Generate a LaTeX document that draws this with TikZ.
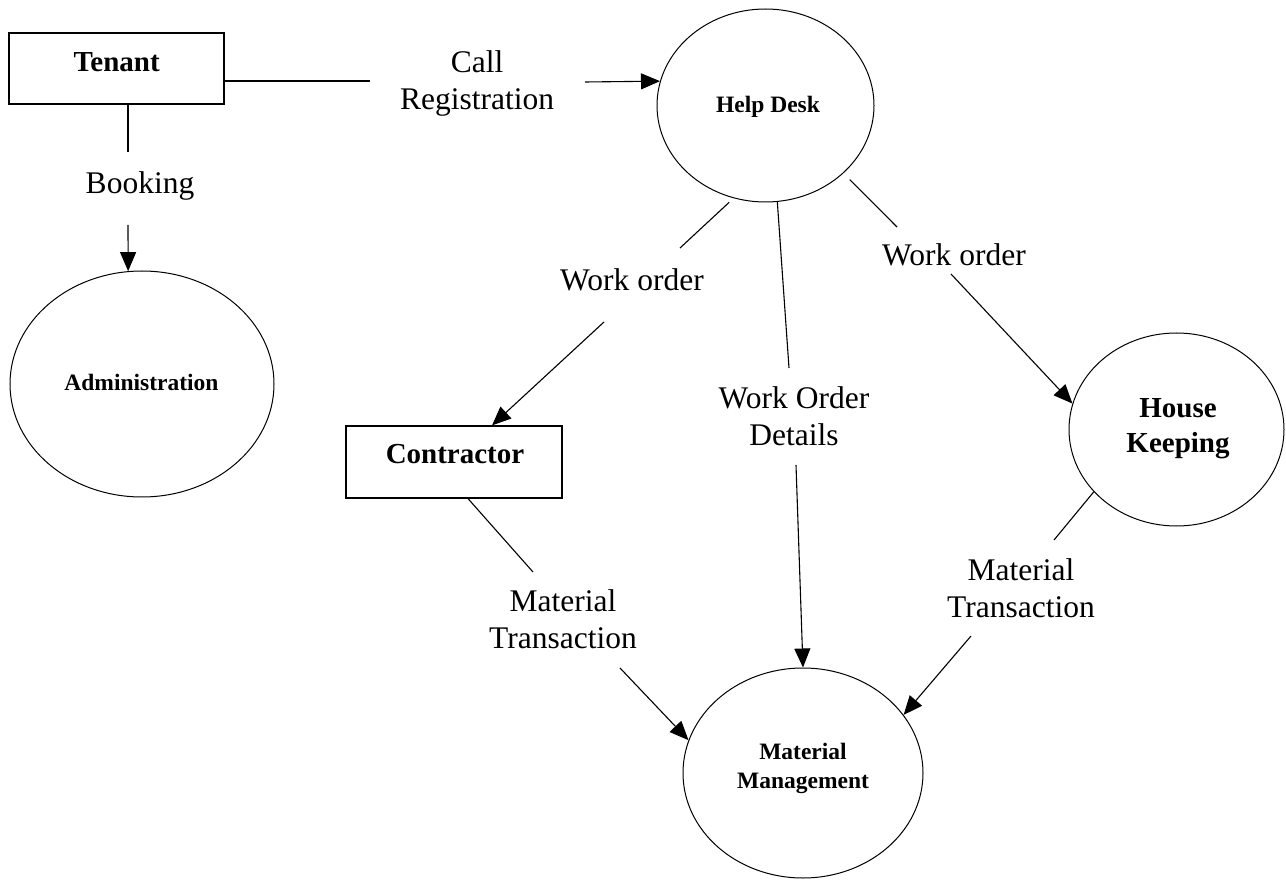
\documentclass[tikz,border=0pt]{standalone}
\usepackage{fontspec}
\setmainfont{Liberation Serif}
\usetikzlibrary{shapes.geometric,arrows.meta}
\begin{document}
\begin{tikzpicture}[x=1pt,y=-1pt,
  flow/.style={line width=1.1pt},
  arr/.style={line width=1.1pt,-{Triangle[length=19pt,width=16pt]}},
  entity/.style={draw,line width=1.2pt,rectangle,inner sep=0pt},
  process/.style={draw,line width=1pt,ellipse,inner sep=0pt},
  flowlabel/.style={inner sep=0pt,align=center,font=\fontsize{31.5}{37}\selectfont},
  bigname/.style={inner sep=0pt,align=center,font=\bfseries\fontsize{29}{35}\selectfont},
  smallname/.style={inner sep=0pt,align=center,font=\bfseries\fontsize{23.5}{29}\selectfont},
]
\useasboundingbox (0,0) rectangle (1286,882);

% external entities
\node[entity,minimum width=215pt,minimum height=71pt] (tenant) at (116.5,68.5) {};
\node[bigname] (tenanttext) at (116.7,62.5) {Tenant};
\node[entity,minimum width=216pt,minimum height=72pt] (contractor) at (454,462) {};
\node[bigname] (contractortext) at (455,454) {Contractor};

% processes
\node[process,minimum width=217pt,minimum height=193pt] (hd) at (765.5,105.5) {};
\node[smallname] (hdtext) at (768,107) {Help Desk};
\node[process,minimum width=264pt,minimum height=226pt] (admin) at (142,384) {};
\node[smallname] (admintext) at (141.5,382.5) {Administration};
\node[process,minimum width=215pt,minimum height=193pt] (hk) at (1176.5,429.5) {};
\node[bigname] (hktext) at (1178,428.5) {House\\Keeping};
\node[process,minimum width=240pt,minimum height=210pt] (mm) at (803,773) {};
\node[smallname] (mmtext) at (803,768) {Material\\Management};

% free ends of the broken connectors
\coordinate (crA) at (370,81);
\coordinate (crB) at (585,82);
\coordinate (bkA) at (128,152);
\coordinate (bkB) at (128,225);
\coordinate (wlA) at (680,248);
\coordinate (wlB) at (604,322);
\coordinate (wdA) at (789,368);
\coordinate (wdB) at (796,465);
\coordinate (wrA) at (897,227);
\coordinate (wrB) at (951,274);
\coordinate (ctA) at (533,572);
\coordinate (ctB) at (620,668);
\coordinate (hkA) at (1054,540);
\coordinate (hkB) at (971,636);

% Tenant -> Help Desk
\draw[flow] (crA -| tenant.east) -- (crA);
\node[flowlabel] (crlbl) at (477,83) {Call\\Registration};
\draw[arr] (crB) -- (hd.167);

% Tenant -> Administration
\draw[flow] (bkA |- tenant.south) -- (bkA);
\node[flowlabel] (bklbl) at (140,186) {Booking};
\draw[arr] (bkB) -- (admin.97);

% Help Desk -> Contractor
\draw[flow,shorten <=6pt] (hd.251.4) -- (wlA);
\node[flowlabel] (wllbl) at (632,280) {Work order};
\draw[arr] (wlB) -- ([xshift=38pt]contractor.north);

% Help Desk -> Material Management
\draw[flow] (hd.277) -- (wdA);
\node[flowlabel] (wdlbl) at (794,416.5) {Work Order\\Details};
\draw[arr] (wdB) -- (mm.north);

% Help Desk -> House Keeping
\draw[flow,shorten <=9pt] (hd.319.4) -- (wrA);
\node[flowlabel] (wrlbl) at (954,255) {Work order};
\draw[arr] (wrB) -- (hk.166);

% Contractor -> Material Management
\draw[flow] ([xshift=14pt]contractor.south) -- (ctA);
\node[flowlabel] (ctlbl) at (563,619) {Material\\Transaction};
\draw[arr] (ctB) -- (mm.164);

% House Keeping -> Material Management
\draw[flow] (hk.217) -- (hkA);
\node[flowlabel] (hklbl) at (1021,588) {Material\\Transaction};
\draw[arr] (hkB) -- (mm.30);
\end{tikzpicture}
\end{document}
